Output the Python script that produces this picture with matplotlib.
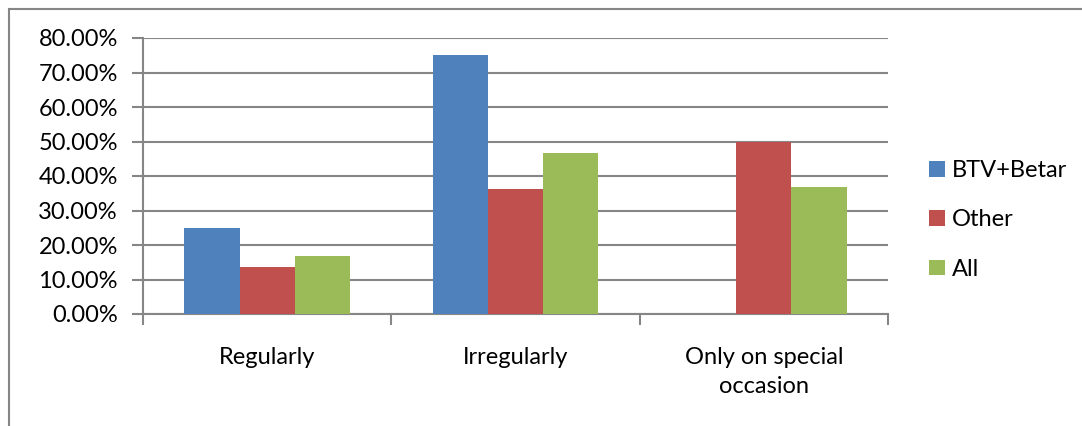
import numpy as np
import matplotlib
matplotlib.use('Agg')
import matplotlib.pyplot as plt
from matplotlib.lines import Line2D
from matplotlib.ticker import FuncFormatter, MultipleLocator

categories = ['Regularly', 'Irregularly', 'Only on special\noccasion']
series_names = ['BTV+Betar', 'Other', 'All']
btv_betar = [25.00, 75.00, 0.00]
other = [13.64, 36.36, 50.00]
all_groups = [16.67, 46.67, 36.67]
colors = ['#4f81bd', '#c0504d', '#9bbb59']

plt.rcParams['font.family'] = ['Lato', 'DejaVu Sans']
grey = '#868686'
fs = 17

fig = plt.figure(figsize=(10.82, 4.26), dpi=100)
ax = fig.add_axes([143 / 1082, 1 - 314 / 426, 745 / 1082, 276 / 426])

x = np.arange(len(categories))
width = 0.222
for i, (vals, name) in enumerate(zip([btv_betar, other, all_groups], series_names)):
    ax.bar(x + (i - 1) * width, vals, width, color=colors[i], label=name, zorder=3)

ax.set_xlim(-0.5, 2.5)
ax.set_ylim(0, 80)
ax.yaxis.set_major_locator(MultipleLocator(10))
ax.yaxis.set_major_formatter(FuncFormatter(lambda v, p: '%.2f%%' % v))
ax.grid(axis='y', color=grey, linewidth=1.5, zorder=0)

ax.set_xticks(x)
ax.set_xticklabels(categories, fontsize=fs, linespacing=1.45)
ax.set_xticks([-0.5, 0.5, 1.5, 2.5], minor=True)
ax.tick_params(axis='x', which='major', length=0, pad=24)
ax.tick_params(axis='x', which='minor', length=8, width=1.5, color=grey)
ax.tick_params(axis='y', length=8, width=1.5, color=grey, labelsize=fs, pad=10)

for side in ['top', 'right']:
    ax.spines[side].set_visible(False)
for side in ['left', 'bottom']:
    ax.spines[side].set_color(grey)
    ax.spines[side].set_linewidth(1.5)

fig.legend(loc='center left', bbox_to_anchor=(908 / 1082, 1 - 220 / 426),
           frameon=False, fontsize=fs, handlelength=0.65, handleheight=0.65,
           handletextpad=0.3, labelspacing=1.2)

# outer chart border (left and top edges)
fig.add_artist(Line2D([9 / 1082, 9 / 1082], [0, 1 - 9 / 426], transform=fig.transFigure,
                      color=grey, linewidth=1.5))
fig.add_artist(Line2D([9 / 1082, 1], [1 - 9 / 426, 1 - 9 / 426], transform=fig.transFigure,
                      color=grey, linewidth=1.5))

fig.savefig('out.png', dpi=100, facecolor='white')
